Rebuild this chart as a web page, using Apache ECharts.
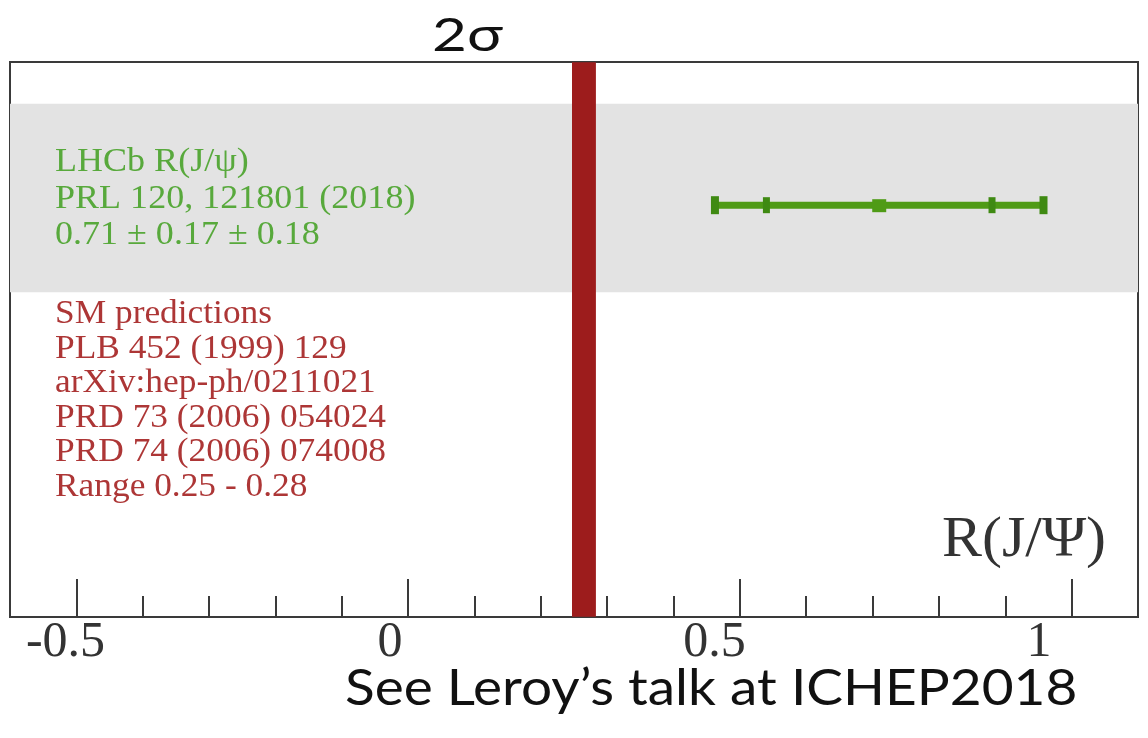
<!DOCTYPE html>
<html>
<head>
<meta charset="utf-8">
<title>R(J/ψ)</title>
<script src="https://cdn.jsdelivr.net/npm/echarts@6/dist/echarts.min.js"></script>
<style>
  html, body { margin: 0; padding: 0; background: #ffffff; }
  #chart { width: 1148px; height: 738px; }
</style>
</head>
<body>
<div id="chart"></div>
<script>
// Axis range and labels
const xRange = [-0.6, 1.1];
const majorTicks = [-0.5, 0, 0.5, 1];
const tickLabels = ['-0.5', '0', '0.5', '1'];

// LHCb measurement: central value, stat. and syst. uncertainty, row height
const lhcbValue = [0.71];
const lhcbStat = [0.17];
const lhcbSyst = [0.18];
const lhcbRow = [0.742];
const lhcbBand = [0.585, 0.925];

// Standard Model prediction range
const smRange = [0.25, 0.28];

// Text blocks
const lhcbLines = ['LHCb R(J/ψ)', 'PRL 120, 121801 (2018)', '0.71 ± 0.17 ± 0.18'];
const smLines = ['SM predictions', 'PLB 452 (1999) 129', 'arXiv:hep-ph/0211021',
  'PRD 73 (2006) 054024', 'PRD 74 (2006) 074008', 'Range 0.25 - 0.28'];
const topLabel = '2σ';
const footLabel = 'See Leroy’s talk at ICHEP2018';
const axisTitle = 'R(J/Ψ)';

const GREEN = '#4f9b16';
const GREEN_TEXT = '#58a93c';
const RED_BAR = '#9d1c1c';
const RED_TEXT = '#ad3636';
const SERIF = '"Liberation Serif", "DejaVu Serif", serif';
const SANS = 'Lato, "Open Sans", sans-serif';

const chart = echarts.init(document.getElementById('chart'), null, { renderer: 'canvas' });

const errData = lhcbValue.map((v, i) => [v, lhcbRow[i], lhcbStat[i], lhcbSyst[i]]);

function renderError(params, api) {
  const x = api.value(0), y = api.value(1), stat = api.value(2), syst = api.value(3);
  const tot = Math.sqrt(stat * stat + syst * syst);
  const lo = api.coord([x - tot, y]);
  const hi = api.coord([x + tot, y]);
  const sLo = api.coord([x - stat, y]);
  const sHi = api.coord([x + stat, y]);
  const c = api.coord([x, y]);
  const tick = (p, w, h) => ({
    type: 'rect',
    shape: { x: p[0] - w / 2, y: p[1] - h / 2, width: w, height: h },
    style: { fill: '#3f8a12' }
  });
  return {
    type: 'group',
    children: [
      { type: 'line', shape: { x1: lo[0], y1: lo[1], x2: hi[0], y2: hi[1] },
        style: { stroke: GREEN, lineWidth: 7 } },
      tick(lo, 8, 18),
      tick(hi, 8, 18),
      tick(sLo, 7, 16),
      tick(sHi, 7, 16),
      { type: 'rect', shape: { x: c[0] - 7, y: c[1] - 6, width: 14, height: 13 },
        style: { fill: GREEN } }
    ]
  };
}

// text element stretched horizontally from its left edge
function label(text, x, y, font, fill, scaleX, lineHeight) {
  return {
    type: 'text', x: x, y: y, scaleX: scaleX, z: 10, silent: true,
    style: { text: text, font: font, fill: fill, lineHeight: lineHeight,
      verticalAlign: 'top', align: 'left' }
  };
}

const option = {
  backgroundColor: '#ffffff',
  animation: false,
  grid: {
    left: 10, right: 10, top: 62, bottom: 121,
    show: true, borderColor: '#3a3a3a', borderWidth: 2, backgroundColor: 'transparent'
  },
  xAxis: [
    {
      // minor ticks every 0.1
      type: 'value', min: xRange[0], max: xRange[1], interval: 0.1, position: 'bottom',
      axisLine: { show: true, onZero: false, lineStyle: { color: '#3a3a3a', width: 2 } },
      axisTick: { show: true, inside: true, length: 21, lineStyle: { color: '#3a3a3a', width: 2 } },
      axisLabel: { show: false },
      splitLine: { show: false }
    },
    {
      // major ticks
      type: 'value', min: xRange[0], max: xRange[1], position: 'bottom', offset: 0,
      axisLine: { show: false },
      axisTick: { show: true, inside: true, length: 38, customValues: majorTicks,
        lineStyle: { color: '#3a3a3a', width: 2 } },
      axisLabel: { show: false },
      splitLine: { show: false }
    },
    {
      // tick labels, set slightly left of the ticks as in the original layout
      type: 'value', min: -0.5855, max: 1.1525, position: 'bottom', offset: 0,
      axisLine: { show: false },
      axisTick: { show: false },
      splitLine: { show: false },
      axisLabel: {
        show: true, customValues: majorTicks, margin: 1,
        formatter: v => tickLabels[majorTicks.indexOf(+v.toFixed(2))] ?? '',
        fontFamily: SERIF, fontSize: 50, color: '#333333'
      }
    }
  ],
  yAxis: {
    type: 'value', min: 0, max: 1, show: false
  },
  series: [
    {
      type: 'line', data: [], xAxisIndex: 0, silent: true,
      markArea: {
        silent: true,
        itemStyle: { color: '#e3e3e3' },
        data: [[{ yAxis: lhcbBand[0], x: 10 }, { yAxis: lhcbBand[1], x: 1138 }]]
      }
    },
    {
      type: 'line', data: [], xAxisIndex: 0, silent: true, z: 3,
      markArea: {
        silent: true,
        itemStyle: { color: RED_BAR, borderColor: RED_BAR, borderWidth: 4 },
        data: [[{ xAxis: smRange[0], yAxis: 0.004 }, { xAxis: smRange[1], yAxis: 0.996 }]]
      }
    },
    {
      type: 'custom', xAxisIndex: 0, z: 5, silent: true,
      renderItem: renderError,
      data: errData
    }
  ],
  graphic: [
    label(lhcbLines.join('\n'), 55, 144, '34px ' + SERIF, GREEN_TEXT, 1.06, 36.5),
    label(smLines.join('\n'), 55, 297, '34px ' + SERIF, RED_TEXT, 1.04, 34.5),
    label(axisTitle, 942, 511, '56px ' + SERIF, '#333333', 1.07, 60),
    label(topLabel, 432, 9, '47px ' + SANS, '#111111', 1.28, 54),
    label(footLabel, 345, 661, '50px ' + SANS, '#111111', 1.1, 56)
  ]
};

chart.setOption(option);
</script>
</body>
</html>
